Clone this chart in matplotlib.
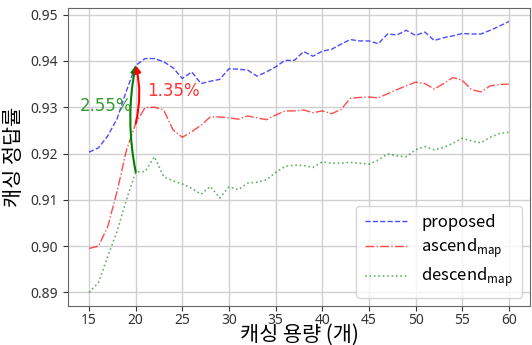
import numpy as np
import matplotlib
matplotlib.use("Agg")
import matplotlib.pyplot as plt

plt.rcParams['font.family'] = ['Noto Sans CJK KR', 'DejaVu Sans']

# --- data ---
capacity = list(range(15, 61))

proposed = [0.9203, 0.9212, 0.9238, 0.9275, 0.9335, 0.9390, 0.9405, 0.9405, 0.9398, 0.9385,
            0.9362, 0.9376, 0.9351, 0.9356, 0.9360, 0.9383, 0.9382, 0.9380, 0.9367, 0.9376,
            0.9387, 0.9401, 0.9401, 0.9420, 0.9410, 0.9421, 0.9425, 0.9436, 0.9446, 0.9443,
            0.9443, 0.9437, 0.9458, 0.9456, 0.9466, 0.9455, 0.9462, 0.9444, 0.9450, 0.9454,
            0.9459, 0.9458, 0.9458, 0.9466, 0.9475, 0.9485]

ascend = [0.8995, 0.9000, 0.9042, 0.9118, 0.9207, 0.9265, 0.9299, 0.9300, 0.9294, 0.9251,
          0.9235, 0.9247, 0.9261, 0.9279, 0.9279, 0.9277, 0.9274, 0.9281, 0.9277, 0.9273,
          0.9283, 0.9292, 0.9292, 0.9294, 0.9288, 0.9292, 0.9286, 0.9295, 0.9319, 0.9321,
          0.9322, 0.9320, 0.9329, 0.9338, 0.9346, 0.9354, 0.9351, 0.9339, 0.9351, 0.9364,
          0.9358, 0.9338, 0.9333, 0.9346, 0.9349, 0.9350]

descend = [0.8900, 0.8921, 0.8978, 0.9032, 0.9100, 0.9160, 0.9161, 0.9193, 0.9150, 0.9141,
           0.9134, 0.9125, 0.9112, 0.9129, 0.9104, 0.9128, 0.9122, 0.9136, 0.9138, 0.9143,
           0.9159, 0.9172, 0.9175, 0.9174, 0.9170, 0.9182, 0.9179, 0.9179, 0.9181, 0.9179,
           0.9177, 0.9186, 0.9199, 0.9195, 0.9193, 0.9208, 0.9215, 0.9208, 0.9213, 0.9222,
           0.9233, 0.9227, 0.9223, 0.9235, 0.9243, 0.9246]

labels = ['proposed', r'ascend$_{\mathregular{map}}$', r'descend$_{\mathregular{map}}$']

fig = plt.figure(figsize=(5.32, 3.45), dpi=100)
ax = fig.add_axes([0.128, 0.113, 0.868, 0.864])

ax.plot(capacity, proposed, '--', color='blue', alpha=0.7, lw=1.0, label=labels[0])
ax.plot(capacity, ascend, '-.', color='red', alpha=0.7, lw=1.0, label=labels[1])
ax.plot(capacity, descend, ':', color='green', alpha=0.6, lw=1.2, label=labels[2])

# improvement arrows at capacity 20
i20 = capacity.index(20)
ax.annotate('', xy=(20, proposed[i20]), xytext=(20, descend[i20]),
            arrowprops=dict(arrowstyle='-|>', color='green', lw=1.5,
                            connectionstyle='arc3,rad=-0.1', shrinkA=0, shrinkB=0))
ax.annotate('', xy=(20, proposed[i20]), xytext=(20, ascend[i20]),
            arrowprops=dict(arrowstyle='-|>', color='red', lw=1.5,
                            connectionstyle='arc3,rad=0.12', shrinkA=0, shrinkB=0))
ax.text(19.6, 0.9302, '2.55%', color='#339933', fontsize=12, ha='right', va='center',
        family='DejaVu Sans')
ax.text(21.2, 0.9335, '1.35%', color='#ff3333', fontsize=12, ha='left', va='center',
        family='DejaVu Sans')

ax.set_xticks(range(15, 61, 5))
ax.set_yticks([0.89, 0.90, 0.91, 0.92, 0.93, 0.94, 0.95])
ax.set_yticklabels(['0.89', '0.90', '0.91', '0.92', '0.93', '0.94', '0.95'])
ax.tick_params(labelsize=10, colors='#333333')
ax.tick_params(axis='x', pad=1.5)
for t in ax.get_xticklabels() + ax.get_yticklabels():
    t.set_family('Noto Sans')
ax.grid(True, color='#d0d0d0', lw=1.0)
for s in ax.spines.values():
    s.set_color('#666666')

ax.set_xlabel('캐싱 용량 (개)', fontsize=15, va='center')
ax.set_ylabel('캐싱 정답률', fontsize=15, va='center')
ax.xaxis.set_label_coords(0.5, -0.098)
ax.yaxis.set_label_coords(-0.118, 0.5)

ax.legend(loc='lower right', fontsize=12, handlelength=2.6, borderpad=0.5,
          labelspacing=0.35, framealpha=0.8)

fig.savefig('out.png', dpi=100)
